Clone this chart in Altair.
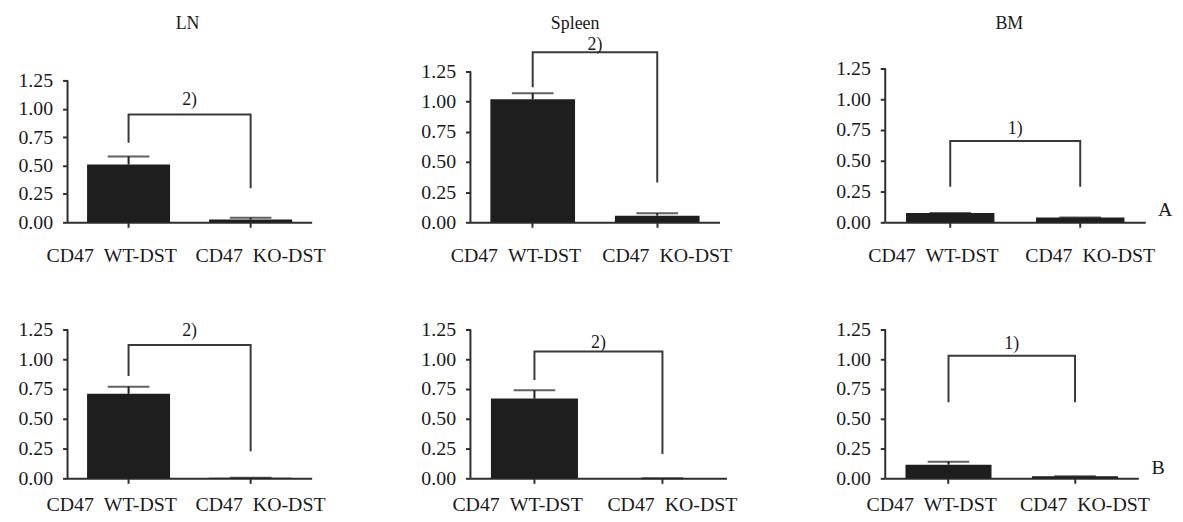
import altair as alt
import pandas as pd

# ---------------- data ----------------
groups = ["CD47\u2002WT-DST", "CD47\u2002KO-DST"]
panel_titles = ["LN", "Spleen", "BM", "", "", ""]
panel_tags = ["", "", "A", "", "", "B"]
tag_y = [0, 0, 0.10, 0, 0, 0.083]

wt_mean = [0.51, 1.02, 0.075, 0.71, 0.67, 0.115]
wt_err = [0.58, 1.07, 0.075, 0.77, 0.74, 0.14]
ko_mean = [0.025, 0.055, 0.04, 0.004, 0.0, 0.018]
ko_err = [0.04, 0.075, 0.04, 0.004, 0.0, 0.018]

bracket_top = [0.95, 1.41, 0.66, 1.12, 1.065, 1.03]
wt_leg_end = [0.70, 1.12, 0.29, 0.86, 0.825, 0.64]
ko_leg_end = [0.30, 0.33, 0.29, 0.228, 0.204, 0.64]
sig_labels = ["2)", "2)", "1)", "2)", "2)", "1)"]
sig_y = [1.075, 1.47, 0.755, 1.24, 1.137, 1.125]

y_ticks = [0.0, 0.25, 0.5, 0.75, 1.0, 1.25]

# ---------------- layout / style ----------------
panel_widths = [246, 251, 262, 246, 258, 255]
axis_heights = [143, 152, 155, 150, 150, 150]
row_heights = [155, 155, 155, 150, 150, 150]
x_label_pad = [18, 18, 18, 11, 11, 11]
title_dx = [-2, -20, -6, 0, 0, 0]
TITLE_Y = -45

FONT = "Liberation Serif"
BAR = "#1e1e1e"
LINE = "#2e2e2e"
TEXT = "#1a1a1a"


def panel(i):
    w = panel_widths[i]
    h = row_heights[i]
    ymax = 1.25 * h / axis_heights[i]
    y_scale = alt.Scale(domain=[0, ymax], nice=False, zero=True)
    x_scale = alt.Scale(domain=groups, paddingInner=0.32, paddingOuter=0.16)

    x_axis = alt.Axis(
        title=None, labelAngle=0, labelPadding=x_label_pad[i],
        tickSize=5, labelFontSize=20, labelLimit=300,
        labelOffset={"condition": {"test": "indexof(datum.value, 'WT') >= 0",
                                   "value": -17}, "value": 10},
    )
    y_axis = alt.Axis(title=None, values=y_ticks, format=".2f", domain=False,
                      tickSize=5, labelPadding=10, labelFontSize=20)

    X = alt.X("group:N", scale=x_scale, sort=groups, axis=x_axis)

    def Y(field):
        return alt.Y(f"{field}:Q", scale=y_scale, axis=y_axis)

    bars_df = pd.DataFrame({
        "group": groups,
        "value": [wt_mean[i], ko_mean[i]],
        "err": [wt_err[i], ko_err[i]],
    })
    base = alt.Chart(bars_df)
    bars = base.mark_bar(color=BAR).encode(x=X, y=Y("value"))
    err_line = base.mark_rule(color=BAR, strokeWidth=2).encode(
        x=X, y=Y("value"), y2="err:Q")
    err_cap = base.mark_tick(color=BAR, thickness=2, size=42).encode(
        x=X, y=Y("err"))

    br_df = pd.DataFrame({
        "group": [groups[0], groups[0], groups[1], groups[1]],
        "value": [wt_leg_end[i], bracket_top[i], bracket_top[i], ko_leg_end[i]],
        "order": [0, 1, 2, 3],
    })
    bracket = alt.Chart(br_df).mark_line(
        color="#3a3a3a", strokeWidth=2, strokeJoin="miter", strokeCap="butt"
    ).encode(x=X, y=Y("value"), order="order:O")

    sig_df = pd.DataFrame({"label": [sig_labels[i]], "value": [sig_y[i]]})
    sig = alt.Chart(sig_df).mark_text(
        font=FONT, fontSize=18, color=TEXT, baseline="middle", align="center"
    ).encode(x=alt.value(w / 2), y=Y("value"), text="label:N")

    yline_df = pd.DataFrame({"value": [0.0], "top": [1.25]})
    yline = alt.Chart(yline_df).mark_rule(color=LINE, strokeWidth=2).encode(
        x=alt.value(0), y=Y("value"), y2="top:Q")

    layers = [bars, err_line, err_cap, bracket, sig, yline]

    if panel_tags[i]:
        tag_df = pd.DataFrame({"label": [panel_tags[i]], "value": [tag_y[i]]})
        tag = alt.Chart(tag_df).mark_text(
            font=FONT, fontSize=20, color=TEXT, baseline="middle", align="center"
        ).encode(x=alt.value(w + 20), y=Y("value"), text="label:N")
        layers.append(tag)

    if panel_titles[i]:
        t_df = pd.DataFrame({"label": [panel_titles[i]]})
        title = alt.Chart(t_df).mark_text(
            font=FONT, fontSize=18, color=TEXT, baseline="middle", align="center"
        ).encode(x=alt.value(w / 2 + title_dx[i]), y=alt.value(TITLE_Y),
                 text="label:N")
        layers.append(title)

    return alt.layer(*layers).properties(width=w, height=h)


chart = alt.concat(
    *[panel(i) for i in range(6)],
    columns=3,
    spacing=alt.RowColnumber(row=108, column=160),
    bounds="flush",
    align="each",
    padding={"left": 10, "top": 5, "right": 2, "bottom": 2},
).configure_view(stroke=None).configure_axis(
    labelFont=FONT,
    labelColor=TEXT,
    domainColor=LINE,
    domainWidth=2,
    tickColor=LINE,
    tickWidth=2,
    grid=False,
)

chart.save("out.html", embed_options={"renderer": "svg", "actions": False})
